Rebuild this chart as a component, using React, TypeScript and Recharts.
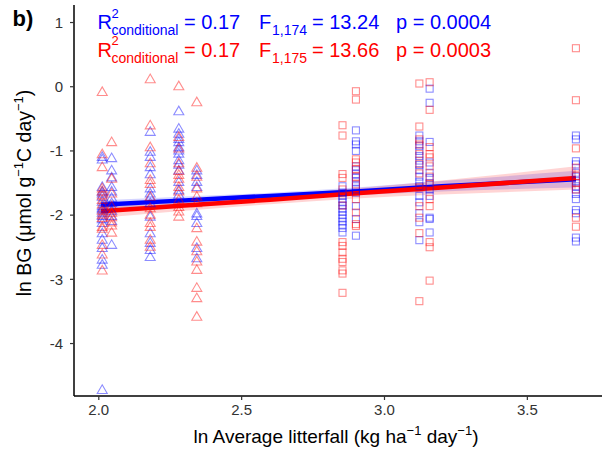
import React from "react";
import { ComposedChart, Scatter, Line, Area, XAxis, YAxis } from "recharts";

// x positions of the triangle and square groups
const triangleX = [2.012, 2.045, 2.18, 2.28, 2.343];
const squareX = [2.853, 2.9, 3.122, 3.158, 3.67];

// blue (first model) values per group
const blueTriangleY = [
  [-1.08, -1.12, -1.55, -1.62, -1.65, -1.7, -1.78, -1.85, -1.88, -1.9, -1.95, -2.0, -2.05, -2.11, -2.27, -2.37, -2.5, -2.68, -2.76, -4.71],
  [-1.1, -1.29, -1.4, -1.55, -1.62, -1.72, -1.8, -1.92, -2.0, -2.08, -2.45],
  [-0.69, -1.0, -1.08, -1.24, -1.35, -1.57, -1.65, -1.72, -1.8, -2.01, -2.27, -2.42, -2.53, -2.64],
  [-0.37, -0.64, -0.72, -0.8, -0.85, -0.93, -0.98, -1.03, -1.13, -1.2, -1.29, -1.47, -1.6, -1.67],
  [-1.29, -1.36, -1.47, -1.55, -1.96, -2.0, -2.11, -2.5, -2.66],
];
const blueSquareY = [
  [-1.55, -1.65, -1.7, -1.75, -1.8, -1.85, -1.9, -1.95, -2.0, -2.05, -2.1, -2.15, -2.2, -2.27],
  [-0.68, -0.85, -0.9, -1.0, -1.24, -1.3, -1.36, -1.42, -1.48, -1.55, -1.6, -1.65, -1.86, -2.06, -2.32],
  [-0.76, -0.85, -0.92, -1.0, -1.08, -1.15, -1.22, -1.3, -1.4, -1.48, -1.55, -1.7, -1.8, -1.97, -2.11, -2.39],
  [-0.03, -0.25, -0.86, -1.18, -1.34, -1.42, -1.5, -1.6, -1.7, -2.04, -2.06, -2.27],
  [-0.76, -0.82, -1.16, -1.21, -1.34, -1.4, -1.47, -1.55, -1.6, -1.67, -1.75, -1.92, -1.97, -2.35, -2.41],
];

// red (second model) values per group
const redTriangleY = [
  [-0.07, -1.04, -1.24, -1.57, -1.62, -1.68, -1.75, -1.82, -1.92, -1.98, -2.03, -2.17, -2.2, -2.45, -2.6, -2.85],
  [-0.85, -1.42, -1.65, -1.85, -1.95, -2.02, -2.1, -2.15, -2.26],
  [0.13, -0.59, -0.93, -1.18, -1.44, -1.5, -1.7, -1.88, -1.98, -2.11, -2.17, -2.37, -2.48],
  [0.02, -0.77, -0.95, -1.18, -1.3, -1.36, -1.42, -1.55, -1.62, -1.75, -1.86, -1.93, -2.01],
  [-0.23, -1.25, -1.39, -1.57, -1.7, -1.8, -2.19, -2.4, -2.55, -2.71, -2.84, -3.12, -3.28, -3.57],
];
const redSquareY = [
  [-0.6, -0.76, -1.36, -1.42, -1.6, -1.85, -2.42, -2.48, -2.58, -2.68, -2.73, -2.86, -2.91, -3.21],
  [-0.07, -0.2, -1.13, -1.18, -1.28, -1.4, -1.52, -1.75, -1.96, -2.14, -2.17],
  [0.05, -0.62, -0.82, -0.9, -1.05, -1.2, -1.35, -1.57, -1.86, -2.04, -2.28, -3.34],
  [0.07, -0.36, -0.94, -1.05, -1.1, -1.24, -1.4, -1.52, -1.75, -1.86, -2.42, -2.5, -3.02],
  [0.6, -0.21, -0.96, -1.26, -1.39, -1.5, -1.6, -2.04, -2.18],
];

// fitted lines and confidence bands
const fitX = [2.008, 2.3, 2.6, 2.9, 3.2, 3.67];
const blueFit = [-1.84, -1.77, -1.7, -1.63, -1.55, -1.44];
const blueLow = [-1.91, -1.83, -1.75, -1.69, -1.63, -1.57];
const blueHigh = [-1.77, -1.71, -1.65, -1.57, -1.47, -1.31];
const redFit = [-1.94, -1.85, -1.76, -1.66, -1.57, -1.42];
const redLow = [-2.04, -1.93, -1.83, -1.74, -1.68, -1.6];
const redHigh = [-1.84, -1.77, -1.69, -1.58, -1.46, -1.24];

const xTicks = [2.0, 2.5, 3.0, 3.5];
const yTicks = [-4, -3, -2, -1, 0, 1];

const BLUE = "#0000FF";
const RED = "#FF0000";
const FONT = "'Liberation Sans', Arial, Helvetica, sans-serif";

const toPoints = (xs: number[], ys: number[][]) =>
  xs.flatMap((x, i) => ys[i].map((y) => ({ x, y })));

const blueTri = toPoints(triangleX, blueTriangleY);
const blueSq = toPoints(squareX, blueSquareY);
const redTri = toPoints(triangleX, redTriangleY);
const redSq = toPoints(squareX, redSquareY);

const fitData = fitX.map((x, i) => ({
  x,
  blueFit: blueFit[i],
  redFit: redFit[i],
  blueBand: [blueLow[i], blueHigh[i]],
  redBand: [redLow[i], redHigh[i]],
}));

const makeTriangle = (color: string) => (props: any) => {
  const { cx, cy } = props;
  if (cx == null || cy == null) return <g />;
  const w = 5;
  const h = 4.3;
  return (
    <polygon
      points={`${cx - w},${cy + h} ${cx + w},${cy + h} ${cx},${cy - h}`}
      fill="none"
      stroke={color}
      strokeOpacity={0.45}
      strokeWidth={1.1}
    />
  );
};

const makeSquare = (color: string) => (props: any) => {
  const { cx, cy } = props;
  if (cx == null || cy == null) return <g />;
  const s = 3.5;
  return (
    <rect
      x={cx - s}
      y={cy - s}
      width={2 * s}
      height={2 * s}
      fill="none"
      stroke={color}
      strokeOpacity={0.45}
      strokeWidth={1.1}
    />
  );
};

const Sup = ({ children }: { children: string }) => (
  <tspan dy={-8} fontSize={13}>
    {children}
  </tspan>
);

const StatLine = ({ color, y, df, F, p }: { color: string; y: number; df: string; F: string; p: string }) => (
  <g fill={color} fontFamily={FONT}>
    <text x={97.5} y={y} fontSize={20}>R</text>
    <text x={111.5} y={y - 11.5} fontSize={13}>2</text>
    <text x={111.5} y={y + 6} fontSize={14}>conditional</text>
    <text x={184} y={y} fontSize={20}>= 0.17</text>
    <text x={259} y={y} fontSize={20}>F</text>
    <text x={272} y={y + 6} fontSize={14}>{df}</text>
    <text x={312} y={y} fontSize={20}>{`= ${F}`}</text>
    <text x={396} y={y} fontSize={20}>{`p = ${p}`}</text>
  </g>
);

export default function App() {
  return (
    <div style={{ position: "absolute", left: 0, top: 0, width: 603, height: 453, background: "#fff" }}>
      <ComposedChart
        width={603}
        height={453}
        data={fitData}
        margin={{ top: 5, right: 1, bottom: 27, left: 24 }}
      >
        <XAxis
          dataKey="x"
          type="number"
          domain={[1.9132, 3.7613]}
          ticks={xTicks}
          tickFormatter={(v: number) => v.toFixed(1)}
          allowDataOverflow
          height={30}
          tickSize={4}
          tickMargin={4}
          stroke="#000"
          strokeWidth={1.5}
          tick={{ fill: "#333", fontSize: 15, fontFamily: FONT }}
          tickLine={{ stroke: "#333", strokeWidth: 1.2 }}
        />
        <YAxis
          dataKey="y"
          type="number"
          domain={[-4.817, 1.273]}
          ticks={yTicks}
          allowDataOverflow
          width={50}
          tickSize={4}
          tickMargin={7}
          stroke="#000"
          strokeWidth={1.5}
          tick={{ fill: "#333", fontSize: 15, fontFamily: FONT }}
          tickLine={{ stroke: "#333", strokeWidth: 1.2 }}
        />
        <Scatter data={blueTri} shape={makeTriangle(BLUE)} isAnimationActive={false} />
        <Scatter data={redTri} shape={makeTriangle(RED)} isAnimationActive={false} />
        <Scatter data={blueSq} shape={makeSquare(BLUE)} isAnimationActive={false} />
        <Scatter data={redSq} shape={makeSquare(RED)} isAnimationActive={false} />
        <Area
          dataKey="blueBand"
          type="monotone"
          stroke="none"
          fill={BLUE}
          fillOpacity={0.17}
          isAnimationActive={false}
          activeDot={false}
        />
        <Area
          dataKey="redBand"
          type="monotone"
          stroke="none"
          fill={RED}
          fillOpacity={0.17}
          isAnimationActive={false}
          activeDot={false}
        />
        <Line
          dataKey="blueFit"
          type="linear"
          stroke={BLUE}
          strokeWidth={4.5}
          dot={false}
          activeDot={false}
          isAnimationActive={false}
        />
        <Line
          dataKey="redFit"
          type="linear"
          stroke={RED}
          strokeWidth={4.5}
          dot={false}
          activeDot={false}
          isAnimationActive={false}
        />
      </ComposedChart>
      <svg
        width={603}
        height={453}
        style={{ position: "absolute", left: 0, top: 0, pointerEvents: "none" }}
      >
        <text x={12.5} y={26} fontSize={22} fontWeight="bold" fontFamily={FONT} fill="#000">
          b)
        </text>
        <StatLine color={BLUE} y={29.3} df="1,174" F="13.24" p="0.0004" />
        <StatLine color={RED} y={56.7} df="1,175" F="13.66" p="0.0003" />
        <text
          transform="translate(31,193) rotate(-90)"
          textAnchor="middle"
          fontSize={19.5}
          fontFamily={FONT}
          fill="#000"
        >
          <tspan>ln BG (μmol g</tspan>
          <Sup>−1</Sup>
          <tspan dy={8}>C day</tspan>
          <Sup>−1</Sup>
          <tspan dy={8}>)</tspan>
        </text>
        <text x={336} y={443} textAnchor="middle" fontSize={19} fontFamily={FONT} fill="#000">
          <tspan>ln Average litterfall (kg ha</tspan>
          <Sup>−1</Sup>
          <tspan dy={8}> day</tspan>
          <Sup>−1</Sup>
          <tspan dy={8}>)</tspan>
        </text>
      </svg>
    </div>
  );
}
